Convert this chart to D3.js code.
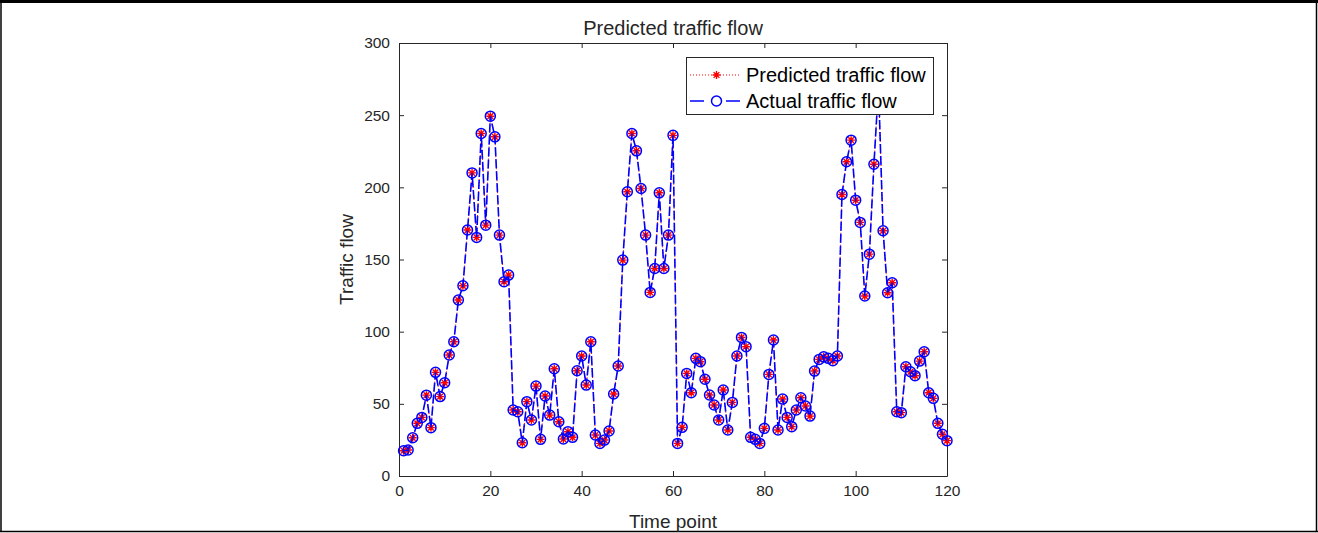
<!DOCTYPE html>
<meta charset="utf-8">
<style>
  body { margin: 0; background: #fff; }
  text { font-family: "Liberation Sans", Arial, sans-serif; fill: #262626; }
  .axis path, .axis line { stroke: #262626; }
</style>
<script src="https://d3js.org/d3.v7.min.js"></script>
<body>
<script>

const width = 1318;
const height = 533;

// time points 1..120
const timePoints = d3.range(1, 121);

const actualFlow = [
  17.5, 18, 26.5, 36.5, 40.6, 56, 33.5, 71.8, 55, 64.6,
  83.8, 93, 121.9, 131.8, 170.4, 210, 165.3, 237.3, 173.8, 249.3,
  235, 166.9, 134.6, 139.2, 45.7, 44.5, 23, 51.5, 38.8, 62.3,
  25.4, 55.4, 42.2, 74.3, 37.6, 25.6, 30.7, 26.8, 72.9, 83.1,
  63, 93, 28.4, 22.6, 24.9, 31.2, 56.8, 76.2, 149.6, 196.9,
  237.3, 225.3, 199.2, 166.9, 127.2, 143.8, 196.2, 143.8, 166.9, 236,
  22.6, 33.7, 71.1, 57.7, 81.5, 79.2, 67, 56.1, 49.2, 38.8,
  59.6, 31.9, 51, 83.1, 96, 89.6, 26.8, 25.4, 22.6, 33,
  70.4, 94.2, 31.9, 53.3, 40.6, 34.2, 45.7, 54.2, 48.5, 41.5,
  72.7, 80.8, 82.6, 81.5, 79.9, 83.1, 195, 217.7, 232.7, 191.1,
  175.7, 124.7, 153.7, 216, 270, 169.9, 127, 133.9, 44.5, 43.9,
  75.7, 72.2, 69.5, 79.6, 86.1, 57.7, 53.8, 36.5, 28.9, 24.5
];

// the stars sit on the circles everywhere in the picture
const predictedFlow = [
  17.5, 18, 26.5, 36.5, 40.6, 56, 33.5, 71.8, 55, 64.6,
  83.8, 93, 121.9, 131.8, 170.4, 210, 165.3, 237.3, 173.8, 249.3,
  235, 166.9, 134.6, 139.2, 45.7, 44.5, 23, 51.5, 38.8, 62.3,
  25.4, 55.4, 42.2, 74.3, 37.6, 25.6, 30.7, 26.8, 72.9, 83.1,
  63, 93, 28.4, 22.6, 24.9, 31.2, 56.8, 76.2, 149.6, 196.9,
  237.3, 225.3, 199.2, 166.9, 127.2, 143.8, 196.2, 143.8, 166.9, 236,
  22.6, 33.7, 71.1, 57.7, 81.5, 79.2, 67, 56.1, 49.2, 38.8,
  59.6, 31.9, 51, 83.1, 96, 89.6, 26.8, 25.4, 22.6, 33,
  70.4, 94.2, 31.9, 53.3, 40.6, 34.2, 45.7, 54.2, 48.5, 41.5,
  72.7, 80.8, 82.6, 81.5, 79.9, 83.1, 195, 217.7, 232.7, 191.1,
  175.7, 124.7, 153.7, 216, 270, 169.9, 127, 133.9, 44.5, 43.9,
  75.7, 72.2, 69.5, 79.6, 86.1, 57.7, 53.8, 36.5, 28.9, 24.5
];

const xTicks = [0, 20, 40, 60, 80, 100, 120];
const yTicks = [0, 50, 100, 150, 200, 250, 300];
const legendLabels = ["Predicted traffic flow", "Actual traffic flow"];

const plot = { left: 399, right: 947, top: 43, bottom: 476 };
const axisColor = "#262626";
const red = "#ff0000";
const blue = "#0000ff";

const x = d3.scaleLinear().domain([0, 120]).range([plot.left, plot.right]);
const y = d3.scaleLinear().domain([0, 300]).range([plot.bottom, plot.top]);

const svg = d3.select("body")
              .append("svg")
              .attr("width", width)
              .attr("height", height)
              .style("display", "block");

// frame of the page the figure sits in
svg.append("rect").attr("x", 0).attr("y", 0).attr("width", width).attr("height", 3).attr("fill", "#000");
svg.append("line").attr("x1", 1).attr("x2", 1).attr("y1", 0).attr("y2", 532).attr("stroke", "#000").attr("stroke-width", 1.5);
svg.append("line").attr("x1", 1316.5).attr("x2", 1316.5).attr("y1", 0).attr("y2", 532).attr("stroke", "#000").attr("stroke-width", 1.5);
svg.append("line").attr("x1", 0).attr("x2", width).attr("y1", 531.5).attr("y2", 531.5).attr("stroke", "#000").attr("stroke-width", 1.5);

// axes, ticks inward on all four sides
svg.append("g")
   .attr("class", "axis")
   .attr("transform", `translate(0,${plot.bottom})`)
   .call(d3.axisBottom(x).tickValues(xTicks).tickSizeInner(-5).tickSizeOuter(0).tickPadding(9));
svg.append("g")
   .attr("class", "axis")
   .attr("transform", `translate(${plot.left},0)`)
   .call(d3.axisLeft(y).tickValues(yTicks).tickSizeInner(-5).tickSizeOuter(0).tickPadding(9));
svg.append("g")
   .attr("class", "axis")
   .attr("transform", `translate(0,${plot.top})`)
   .call(d3.axisTop(x).tickValues(xTicks).tickSizeInner(-5).tickSizeOuter(0).tickFormat(""));
svg.append("g")
   .attr("class", "axis")
   .attr("transform", `translate(${plot.right},0)`)
   .call(d3.axisRight(y).tickValues(yTicks).tickSizeInner(-5).tickSizeOuter(0).tickFormat(""));

svg.selectAll(".axis text")
   .style("font-size", "15.5px")
   .style("font-family", "'Liberation Sans', Arial, sans-serif")
   .attr("fill", axisColor);

// title and labels
svg.append("text")
   .attr("x", (plot.left + plot.right) / 2)
   .attr("y", 35)
   .attr("text-anchor", "middle")
   .style("font-size", "20px")
   .text("Predicted traffic flow");

svg.append("text")
   .attr("x", (plot.left + plot.right) / 2)
   .attr("y", 528)
   .attr("text-anchor", "middle")
   .style("font-size", "19px")
   .text("Time point");

svg.append("text")
   .attr("transform", `translate(353,${(plot.top + plot.bottom) / 2}) rotate(-90)`)
   .attr("text-anchor", "middle")
   .style("font-size", "19px")
   .text("Traffic flow");

const lineFunction = d3.line()
                       .x((d, i) => x(timePoints[i]))
                       .y(d => y(d));

function starPath(cx, cy, s) {
  const k = s * 0.72;
  return `M${cx - s},${cy}L${cx + s},${cy}M${cx},${cy - s}L${cx},${cy + s}` +
         `M${cx - k},${cy - k}L${cx + k},${cy + k}M${cx - k},${cy + k}L${cx + k},${cy - k}`;
}

// predicted: red dotted line with stars
svg.append("path")
   .attr("d", lineFunction(predictedFlow))
   .attr("fill", "none")
   .attr("stroke", red)
   .attr("stroke-width", 1)
   .attr("stroke-dasharray", "1,2");

svg.append("g")
   .attr("class", "stars")
   .selectAll("path")
   .data(predictedFlow)
   .enter().append("path")
   .attr("d", (d, i) => starPath(x(timePoints[i]), y(d), 4))
   .attr("stroke", red)
   .attr("stroke-width", 1.4);

// actual: blue dashed line with hollow circles
svg.append("path")
   .attr("d", lineFunction(actualFlow))
   .attr("fill", "none")
   .attr("stroke", blue)
   .attr("stroke-width", 1.6)
   .attr("stroke-dasharray", "9,3");

svg.append("g")
   .attr("class", "circles")
   .selectAll("circle")
   .data(actualFlow)
   .enter().append("circle")
   .attr("cx", (d, i) => x(timePoints[i]))
   .attr("cy", d => y(d))
   .attr("r", 5)
   .attr("fill", "none")
   .attr("stroke", blue)
   .attr("stroke-width", 1.5);

// legend
const legend = svg.append("g").attr("transform", "translate(686,57)");
legend.append("rect")
      .attr("x", 0.5).attr("y", 0.5)
      .attr("width", 247).attr("height", 57)
      .attr("fill", "#fff")
      .attr("stroke", axisColor)
      .attr("stroke-width", 1);

const rows = [18, 44];
legend.append("line")
      .attr("x1", 4).attr("x2", 54).attr("y1", rows[0]).attr("y2", rows[0])
      .attr("stroke", red).attr("stroke-width", 1).attr("stroke-dasharray", "1,2");
legend.append("path")
      .attr("d", starPath(30.5, rows[0], 4))
      .attr("stroke", red).attr("stroke-width", 1.4);
legend.append("line")
      .attr("x1", 4).attr("x2", 54).attr("y1", rows[1]).attr("y2", rows[1])
      .attr("stroke", blue).attr("stroke-width", 1.6).attr("stroke-dasharray", "14,22");
legend.append("circle")
      .attr("cx", 30.5).attr("cy", rows[1]).attr("r", 5)
      .attr("fill", "none").attr("stroke", blue).attr("stroke-width", 1.5);

legend.selectAll("text.label")
      .data(legendLabels)
      .enter().append("text")
      .attr("class", "label")
      .attr("x", 60)
      .attr("y", (d, i) => rows[i])
      .attr("dy", "0.36em")
      .style("font-size", "20px")
      .style("fill", "#000")
      .text(d => d);
</script>
</body>
